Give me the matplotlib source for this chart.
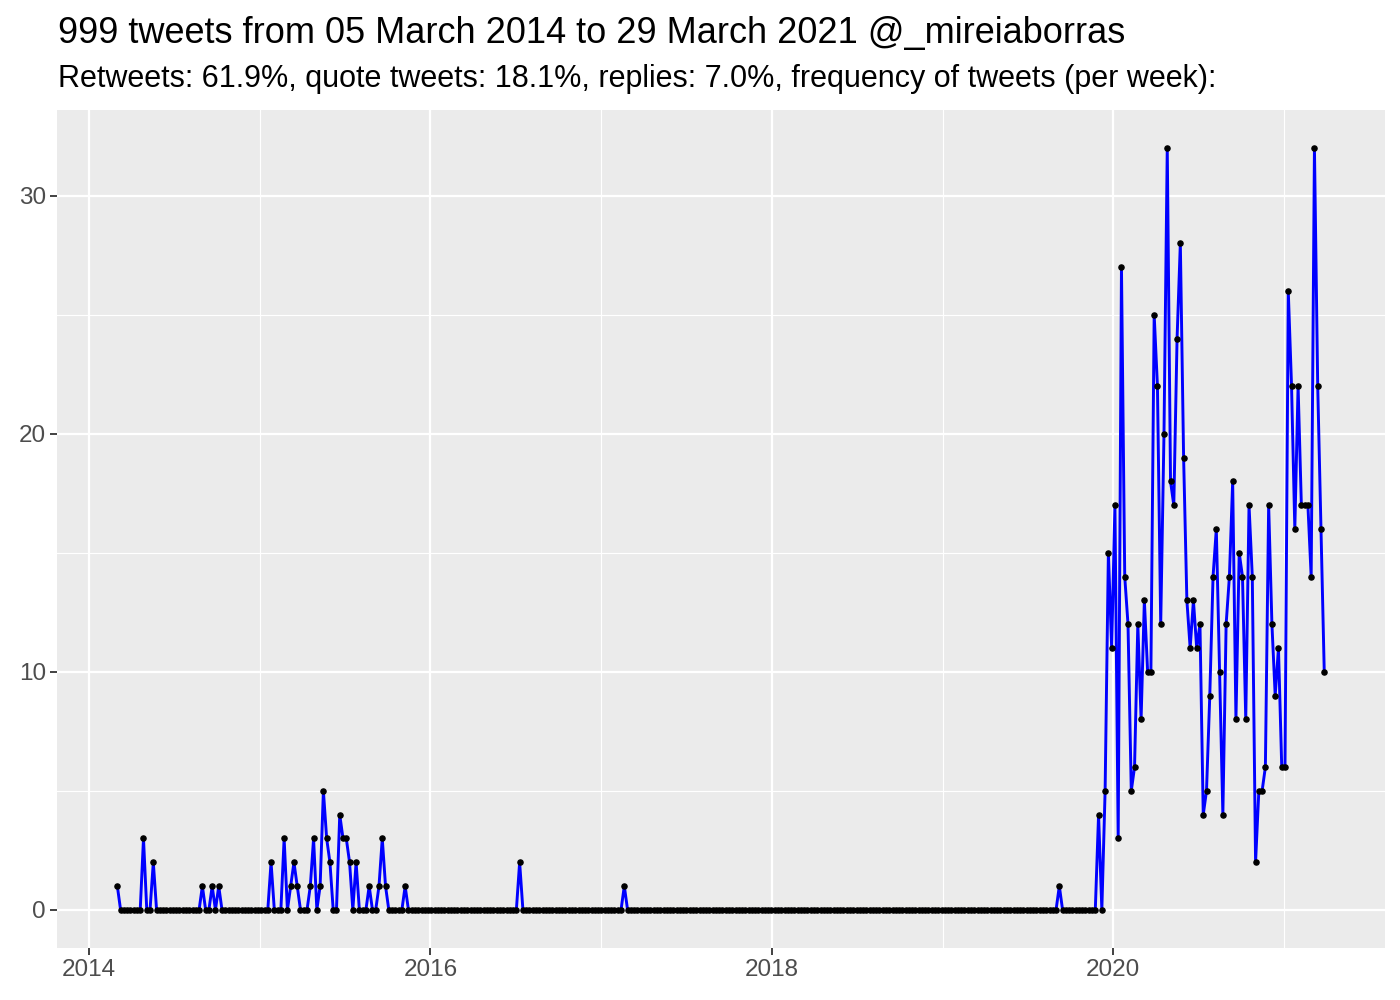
"""Weekly tweet frequency, ggplot-like look."""
import matplotlib
matplotlib.use("Agg")
import matplotlib.pyplot as plt
import matplotlib.dates as mdates
import pandas as pd

START_WEEK = "2014-03-02"

# tweets per week, one value per week from START_WEEK
counts = [
    1, 0, 0, 0, 0, 0, 0, 0, 3, 0, 0, 2, 0, 0, 0, 0, 0, 0, 0, 0,
    0, 0, 0, 0, 0, 0, 1, 0, 0, 1, 0, 1, 0, 0, 0, 0, 0, 0, 0, 0,
    0, 0, 0, 0, 0, 0, 0, 2, 0, 0, 0, 3, 0, 1, 2, 1, 0, 0, 0, 1,
    3, 0, 1, 5, 3, 2, 0, 0, 4, 3, 3, 2, 0, 2, 0, 0, 0, 1, 0, 0,
    1, 3, 1, 0, 0, 0, 0, 0, 1, 0, 0, 0, 0, 0, 0, 0, 0, 0, 0, 0,
    0, 0, 0, 0, 0, 0, 0, 0, 0, 0, 0, 0, 0, 0, 0, 0, 0, 0, 0, 0,
    0, 0, 0, 2, 0, 0, 0, 0, 0, 0, 0, 0, 0, 0, 0, 0, 0, 0, 0, 0,
    0, 0, 0, 0, 0, 0, 0, 0, 0, 0, 0, 0, 0, 0, 0, 1, 0, 0, 0, 0,
    0, 0, 0, 0, 0, 0, 0, 0, 0, 0, 0, 0, 0, 0, 0, 0, 0, 0, 0, 0,
    0, 0, 0, 0, 0, 0, 0, 0, 0, 0, 0, 0, 0, 0, 0, 0, 0, 0, 0, 0,
    0, 0, 0, 0, 0, 0, 0, 0, 0, 0, 0, 0, 0, 0, 0, 0, 0, 0, 0, 0,
    0, 0, 0, 0, 0, 0, 0, 0, 0, 0, 0, 0, 0, 0, 0, 0, 0, 0, 0, 0,
    0, 0, 0, 0, 0, 0, 0, 0, 0, 0, 0, 0, 0, 0, 0, 0, 0, 0, 0, 0,
    0, 0, 0, 0, 0, 0, 0, 0, 0, 0, 0, 0, 0, 0, 0, 0, 0, 0, 0, 0,
    0, 0, 0, 0, 0, 0, 0, 0, 1, 0, 0, 0, 0, 0, 0, 0, 0, 0, 0, 0,
    4, 0, 5, 15, 11, 17, 3, 27, 14, 12, 5, 6, 12, 8, 13, 10, 10, 25, 22, 12,
    20, 32, 18, 17, 24, 28, 19, 13, 11, 13, 11, 12, 4, 5, 9, 14, 16, 10, 4, 12,
    14, 18, 8, 15, 14, 8, 17, 14, 2, 5, 5, 6, 17, 12, 9, 11, 6, 6, 26, 22,
    16, 22, 17, 17, 17, 14, 32, 22, 16, 10,
]

title = "999 tweets from 05 March 2014 to 29 March 2021 @_mireiaborras"
subtitle = ("Retweets: 61.9%, quote tweets: 18.1%, replies: 7.0%, "
            "frequency of tweets (per week):")

weeks = pd.date_range(START_WEEK, periods=len(counts), freq="7D")

plt.rcParams["font.family"] = ["Liberation Sans", "DejaVu Sans"]

fig = plt.figure(figsize=(14, 10), dpi=100)
ax = fig.add_axes([0.0407, 0.052, 0.9483, 0.838])
ax.set_facecolor("#EBEBEB")

ax.plot(weeks, counts, color="#0000FF", linewidth=2.1, zorder=3)
ax.plot(weeks, counts, linestyle="none", marker="o", markersize=3.7,
        color="black", zorder=4)

# ggplot-style 5% expansion
span = weeks[-1] - weeks[0]
ax.set_xlim(weeks[0] - span * 0.05, weeks[-1] + span * 0.05)
ymax = max(counts)
ax.set_ylim(-0.05 * ymax, ymax * 1.05)

ax.xaxis.set_major_locator(mdates.YearLocator(2))
ax.xaxis.set_major_formatter(mdates.DateFormatter("%Y"))
ax.set_xticks(pd.to_datetime(["2015-01-01", "2017-01-01", "2019-01-01", "2021-01-01"]),
              minor=True)
ax.set_yticks([0, 10, 20, 30])
ax.set_yticks([5, 15, 25], minor=True)

ax.grid(which="major", color="white", linewidth=1.6, zorder=0)
ax.grid(which="minor", color="white", linewidth=0.8, zorder=0)
ax.set_axisbelow(True)

for s in ax.spines.values():
    s.set_visible(False)
ax.tick_params(which="major", length=5, width=1.3, color="#333333",
               labelcolor="#4D4D4D", labelsize=17.5, pad=3)
ax.tick_params(which="minor", length=0)

fig.text(0.0414, 0.957, title, fontsize=26, color="black", va="baseline")
fig.text(0.0414, 0.913, subtitle, fontsize=22, color="black", va="baseline")

fig.savefig("out.png", dpi=100)
plt.close(fig)
